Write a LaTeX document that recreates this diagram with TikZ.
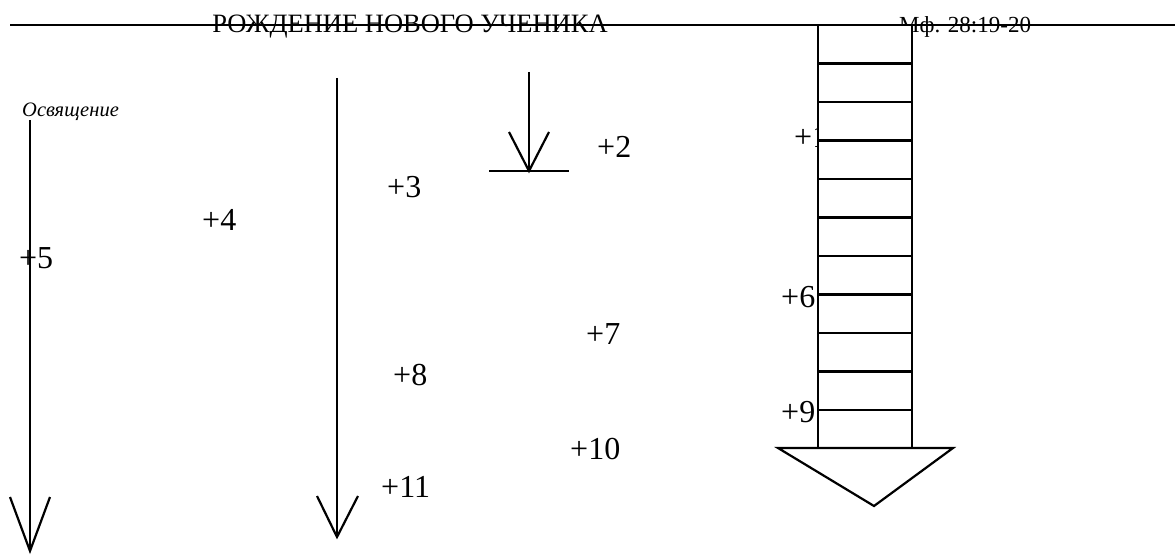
\documentclass[tikz,border=0pt]{standalone}
\usepackage{fontspec}
\setmainfont{Liberation Serif}
\begin{document}
\begin{tikzpicture}[x=1pt,y=-1pt,
  lbl/.style={anchor=base west,inner sep=0pt,font=\fontsize{32}{32}\selectfont},
  ln/.style={line width=2.2pt},
  rung/.style={line width=2.2pt}]
\useasboundingbox (0,0) rectangle (1175,556);
% header
\node[anchor=base,inner sep=0pt,font=\fontsize{26.5}{26.5}\selectfont] (title) at (410,33) {РОЖДЕНИЕ НОВОГО УЧЕНИКА};
\node[anchor=base west,inner sep=0pt,font=\fontsize{23}{23}\selectfont] (ref) at (899,33) {Мф. 28:19-20};
\coordinate (hl) at (10,25);
\coordinate (hr) at (1175,25);
\draw[line width=1.8pt] (hl) -- (hr);
% italic label
\node[anchor=base west,inner sep=0pt,font=\fontsize{20.5}{20.5}\selectfont\itshape] (osv) at (22,117) {Освящение};
% labels
\node[lbl] (l1) at (794,148) {+1};
\node[lbl] (l2) at (597,158) {+2};
\node[lbl] (l3) at (387,197) {+3};
\node[lbl] (l4) at (202,230) {+4};
\node[lbl] (l5) at (19,268) {+5};
\node[lbl] (l6) at (781,307) {+6};
\node[lbl] (l7) at (586,344) {+7};
\node[lbl] (l8) at (393,385) {+8};
\node[lbl] (l9) at (781,422) {+9};
\node[lbl] (l10) at (570,459) {+10};
\node[lbl] (l11) at (381,497) {+11};
% arrow 1
\coordinate (a1s) at (30,120);
\coordinate (a1e) at (30,551);
\coordinate (a1l) at (10,497);
\coordinate (a1r) at (50,497);
\draw[ln] (a1s) -- (a1e);
\draw[ln] (a1l) -- (a1e) -- (a1r);
% arrow 2
\coordinate (a2s) at (337,78);
\coordinate (a2e) at (337,537);
\coordinate (a2l) at (317,496);
\coordinate (a2r) at (358,496);
\draw[ln] (a2s) -- (a2e);
\draw[ln] (a2l) -- (a2e) -- (a2r);
% arrow 3 (short, with bar)
\coordinate (a3s) at (529,72);
\coordinate (a3e) at (529,171);
\coordinate (a3l) at (509,132);
\coordinate (a3r) at (549,132);
\coordinate (b3l) at (489,171);
\coordinate (b3r) at (569,171);
\draw[ln] (a3s) -- (a3e);
\draw[ln] (a3l) -- (a3e) -- (a3r);
\draw[ln] (b3l) -- (b3r);
% ladder
\coordinate (lt) at (818,25);
\coordinate (rb) at (912,448);
\draw[ln,fill=white] (lt) rectangle (rb);
\foreach \y in {63.5,102,140.5,179,217.5,256,294.5,333,371.5,410}{
  \draw[rung] (818,\y) -- (912,\y);
}
% triangle head
\coordinate (tl) at (778,448);
\coordinate (tr) at (953,448);
\coordinate (tp) at (874,506);
\draw[ln,fill=white] (tl) -- (tr) -- (tp) -- cycle;
\end{tikzpicture}
\end{document}
